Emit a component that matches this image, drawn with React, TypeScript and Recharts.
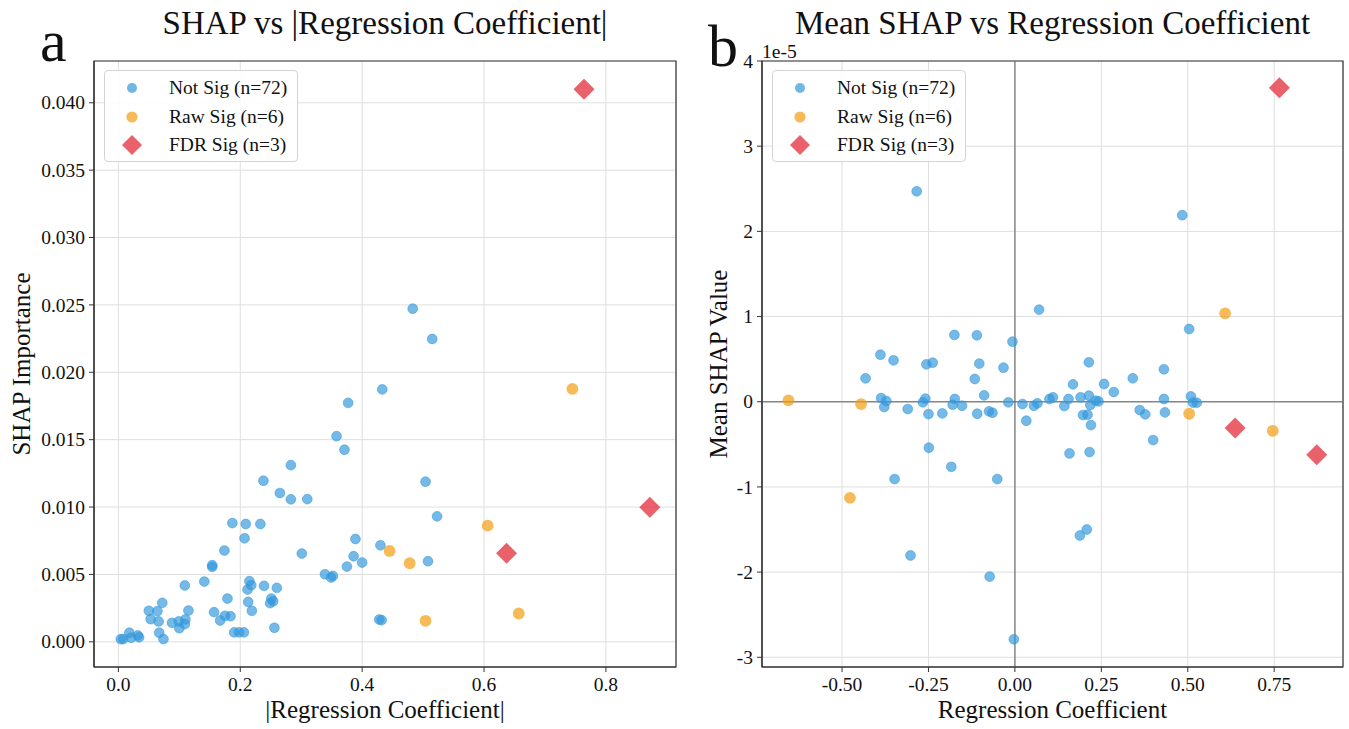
import {
  CartesianGrid,
  Legend,
  ReferenceArea,
  ReferenceLine,
  Scatter,
  ScatterChart,
  XAxis,
  YAxis,
} from 'recharts'

const SERIF = '"Liberation Serif", "Times New Roman", Times, serif'
const INK = '#111'
const BLUE = '#3498db'
const ORANGE = '#f39c12'
const RED = '#e63946'

// panel a: |regression coefficient| vs SHAP importance
const notSigAbsCoef = [
  0.433, 0.377, 0.358, 0.371, 0.283, 0.238, 0.265, 0.283, 0.31, 0.187,
  0.209, 0.233, 0.207, 0.174, 0.154, 0.154, 0.301, 0.389, 0.43, 0.386,
  0.4, 0.375, 0.339, 0.349, 0.352, 0.141, 0.109, 0.215, 0.218, 0.212,
  0.239, 0.26, 0.179, 0.213, 0.251, 0.254, 0.249, 0.072, 0.05, 0.064,
  0.115, 0.157, 0.219, 0.053, 0.066, 0.167, 0.175, 0.184, 0.088, 0.099,
  0.11, 0.109, 0.1, 0.256, 0.432, 0.428, 0.19, 0.198, 0.206, 0.067,
  0.074, 0.018, 0.004, 0.021, 0.032, 0.034, 0.008, 0.483, 0.515, 0.504,
  0.523, 0.508,
]
const notSigShap = [
  0.01873, 0.01773, 0.01526, 0.01425, 0.01311, 0.01195, 0.01104, 0.01057, 0.01059, 0.00881,
  0.00874, 0.00874, 0.00768, 0.00677, 0.00568, 0.00556, 0.00655, 0.00763, 0.00716, 0.00635,
  0.00588, 0.00558, 0.00501, 0.00477, 0.00489, 0.00447, 0.00418, 0.0045, 0.0042, 0.00388,
  0.00415, 0.004, 0.00321, 0.00296, 0.00321, 0.00301, 0.00287, 0.00289, 0.0023, 0.00227,
  0.00232, 0.0022, 0.0023, 0.00168, 0.00151, 0.00158, 0.00193, 0.0019, 0.00141, 0.00151,
  0.00166, 0.00131, 0.00101, 0.00104, 0.00161, 0.00165, 0.0007, 0.0007, 0.0007, 0.00067,
  0.0002, 0.00067, 0.0002, 0.0003, 0.00047, 0.00033, 0.0002, 0.02472, 0.02247, 0.01188,
  0.00931, 0.00598,
]
const rawSigAbsCoef = [0.745, 0.606, 0.445, 0.478, 0.504, 0.657]
const rawSigShap = [0.01877, 0.00862, 0.00674, 0.00583, 0.00156, 0.0021]
const fdrSigAbsCoef = [0.764, 0.637, 0.872]
const fdrSigShap = [0.04101, 0.00657, 0.00998]

// panel b: signed coefficient vs mean SHAP (units of 1e-5)
const notSigCoef = [
  -0.389, -0.351, -0.432, -0.387, -0.372, -0.378, -0.31, -0.256, -0.238, -0.266,
  -0.259, -0.25, -0.21, -0.249, -0.175, -0.11, -0.103, -0.116, -0.174, -0.18,
  -0.153, -0.109, -0.089, -0.075, -0.065, -0.033, -0.007, -0.019, -0.184, -0.348,
  -0.051, -0.302, -0.073, -0.003, -0.284, 0.07, 0.022, 0.033, 0.055, 0.065,
  0.1, 0.11, 0.143, 0.155, 0.168, 0.158, 0.19, 0.214, 0.214, 0.218,
  0.197, 0.21, 0.22, 0.216, 0.234, 0.242, 0.258, 0.286, 0.341, 0.361,
  0.377, 0.4, 0.431, 0.431, 0.434, 0.504, 0.509, 0.526, 0.515, 0.188,
  0.208, 0.484,
]
const notSigMeanShap = [
  0.552, 0.486, 0.275, 0.043, 0.008, -0.062, -0.086, 0.439, 0.458, -0.007,
  0.035, -0.145, -0.137, -0.54, 0.784, 0.78, 0.447, 0.267, 0.032, -0.035,
  -0.047, -0.141, 0.075, -0.113, -0.129, 0.4, 0.705, -0.007, -0.764, -0.908,
  -0.908, -1.805, -2.052, -2.789, 2.47, 1.081, -0.027, -0.223, -0.047, -0.019,
  0.032, 0.052, -0.05, 0.032, 0.204, -0.607, 0.052, 0.463, 0.071, -0.039,
  -0.156, -0.152, -0.274, -0.591, 0.012, 0.004, 0.208, 0.114, 0.275, -0.098,
  -0.148, -0.45, 0.381, 0.032, -0.125, 0.854, 0.063, -0.011, -0.01, -1.57,
  -1.5, 2.19,
]
const rawSigCoef = [-0.655, -0.445, -0.477, 0.608, 0.504, 0.746]
const rawSigMeanShap = [0.016, -0.027, -1.128, 1.038, -0.141, -0.341]
const fdrSigCoef = [0.765, 0.637, 0.873]
const fdrSigMeanShap = [3.685, -0.309, -0.623]

const aXTicks = [0, 0.2, 0.4, 0.6, 0.8]
const aYTicks = [0, 0.005, 0.01, 0.015, 0.02, 0.025, 0.03, 0.035, 0.04]
const bXTicks = [-0.5, -0.25, 0, 0.25, 0.5, 0.75]
const bYTicks = [-3, -2, -1, 0, 1, 2, 3, 4]

const legendLabels = ['Not Sig (n=72)', 'Raw Sig (n=6)', 'FDR Sig (n=3)']

const zip = (xs: number[], ys: number[]) => xs.map((x, i) => ({ x, y: ys[i] }))

const blueDot = (p: any) => (
  <circle
    cx={p.cx}
    cy={p.cy}
    r={4.9}
    fill={BLUE}
    fillOpacity={0.68}
    stroke={BLUE}
    strokeOpacity={0.6}
    strokeWidth={0.9}
  />
)
const orangeDot = (p: any) => (
  <circle cx={p.cx} cy={p.cy} r={5.9} fill={ORANGE} fillOpacity={0.7} />
)
const diamond = (p: any) => {
  const r = 10.5
  return (
    <path
      d={`M${p.cx},${p.cy - r}L${p.cx + r},${p.cy}L${p.cx},${p.cy + r}L${p.cx - r},${p.cy}Z`}
      fill={RED}
      fillOpacity={0.8}
    />
  )
}

function LegendBox() {
  const markers = [
    <circle cx={28} cy={14} r={5} fill={BLUE} fillOpacity={0.7} />,
    <circle cx={28} cy={14} r={5.6} fill={ORANGE} fillOpacity={0.7} />,
    <path d="M28,4L38,14L28,24L18,14Z" fill={RED} fillOpacity={0.8} />,
  ]
  return (
    <div
      style={{
        position: 'relative',
        width: 194,
        height: 92,
        boxSizing: 'border-box',
        border: '1px solid #d4d4d4',
        borderRadius: 4,
        background: 'rgba(255,255,255,0.85)',
        fontFamily: SERIF,
        fontSize: 19.5,
        color: INK,
      }}
    >
      {legendLabels.map((label, i) => (
        <div
          key={label}
          style={{
            position: 'absolute',
            left: -1,
            top: 3 + i * 28.7,
            height: 28,
            display: 'flex',
            alignItems: 'center',
            whiteSpace: 'nowrap',
          }}
        >
          <svg width={56} height={28}>
            {markers[i]}
          </svg>
          <span style={{ marginLeft: 9 }}>{label}</span>
        </div>
      ))}
    </div>
  )
}

const makeTick = (side: 'x' | 'y', format: (v: number) => string) => (p: any) => (
  <text
    x={p.x}
    y={p.y}
    dy={side === 'x' ? '0.71em' : '0.34em'}
    textAnchor={side === 'x' ? 'middle' : 'end'}
    style={{ fontFamily: SERIF, fontSize: 19.5, fill: INK }}
  >
    {format(p.payload.value)}
  </text>
)

interface PanelProps {
  left: number
  width: number
  yAxisWidth: number
  rightMargin: number
  xDomain: [number, number]
  yDomain: [number, number]
  xTicks: number[]
  yTicks: number[]
  xFormat: (v: number) => string
  yFormat: (v: number) => string
  notSig: { x: number; y: number }[]
  rawSig: { x: number; y: number }[]
  fdrSig: { x: number; y: number }[]
  zeroLines?: boolean
}

function Panel(props: PanelProps) {
  return (
    <div style={{ position: 'absolute', left: props.left, top: 0, fontFamily: SERIF }}>
      <ScatterChart
        width={props.width}
        height={729}
        margin={{ top: 61, right: props.rightMargin, bottom: 0, left: 0 }}
      >
        <CartesianGrid stroke="#dedede" strokeWidth={1} />
        <XAxis
          type="number"
          dataKey="x"
          domain={props.xDomain}
          ticks={props.xTicks}
          allowDataOverflow
          height={62}
          tick={makeTick('x', props.xFormat)}
          tickSize={5}
          tickMargin={5}
          tickLine={{ stroke: '#333' }}
          axisLine={{ stroke: '#333', strokeWidth: 1.2 }}
        />
        <YAxis
          type="number"
          dataKey="y"
          domain={props.yDomain}
          ticks={props.yTicks}
          allowDataOverflow
          width={props.yAxisWidth}
          tick={makeTick('y', props.yFormat)}
          tickSize={5}
          tickMargin={4}
          tickLine={{ stroke: '#333' }}
          axisLine={{ stroke: '#333', strokeWidth: 1.2 }}
        />
        <Scatter data={props.notSig} shape={blueDot} isAnimationActive={false} />
        <Scatter data={props.rawSig} shape={orangeDot} isAnimationActive={false} />
        <Scatter data={props.fdrSig} shape={diamond} isAnimationActive={false} />
        {props.zeroLines && (
          <ReferenceLine x={0} stroke="#6f6f6f" strokeOpacity={0.8} strokeWidth={1.5} />
        )}
        {props.zeroLines && (
          <ReferenceLine y={0} stroke="#6f6f6f" strokeOpacity={0.8} strokeWidth={1.5} />
        )}
        <ReferenceArea
          x1={props.xDomain[0]}
          x2={props.xDomain[1]}
          y1={props.yDomain[0]}
          y2={props.yDomain[1]}
          fill="none"
          stroke="#333"
          strokeWidth={1.2}
          ifOverflow="visible"
        />
        <Legend
          layout="vertical"
          align="center"
          verticalAlign="middle"
          content={() => <LegendBox />}
          wrapperStyle={{ left: props.yAxisWidth + 10, top: 70, width: 194, height: 92 }}
        />
      </ScatterChart>
    </div>
  )
}

export default function App() {
  return (
    <div
      style={{
        position: 'absolute',
        left: 0,
        top: 0,
        width: 1349,
        height: 729,
        background: '#fff',
        overflow: 'hidden',
      }}
    >
      <Panel
        left={0}
        width={690}
        yAxisWidth={94}
        rightMargin={14}
        xDomain={[-0.04, 0.915]}
        yDomain={[-0.00187, 0.0431]}
        xTicks={aXTicks}
        yTicks={aYTicks}
        xFormat={(v) => v.toFixed(1)}
        yFormat={(v) => v.toFixed(3)}
        notSig={zip(notSigAbsCoef, notSigShap)}
        rawSig={zip(rawSigAbsCoef, rawSigShap)}
        fdrSig={zip(fdrSigAbsCoef, fdrSigShap)}
      />
      <Panel
        left={690}
        width={659}
        yAxisWidth={72}
        rightMargin={6}
        xDomain={[-0.7315, 0.949]}
        yDomain={[-3.114, 4.0]}
        xTicks={bXTicks}
        yTicks={bYTicks}
        xFormat={(v) => v.toFixed(2)}
        yFormat={(v) => String(v)}
        notSig={zip(notSigCoef, notSigMeanShap)}
        rawSig={zip(rawSigCoef, rawSigMeanShap)}
        fdrSig={zip(fdrSigCoef, fdrSigMeanShap)}
        zeroLines
      />
      <svg
        width={1349}
        height={729}
        style={{ position: 'absolute', left: 0, top: 0, pointerEvents: 'none' }}
        fontFamily={SERIF}
        fill={INK}
      >
        <text x={385} y={34} fontSize={33} textAnchor="middle">
          SHAP vs |Regression Coefficient|
        </text>
        <text x={1052.5} y={34} fontSize={33} textAnchor="middle">
          Mean SHAP vs Regression Coefficient
        </text>
        <text x={40} y={61} fontSize={60}>
          a
        </text>
        <text x={708} y={66} fontSize={60}>
          b
        </text>
        <text x={762} y={58} fontSize={19.5}>
          1e-5
        </text>
        <text x={385} y={718} fontSize={25} textAnchor="middle">
          |Regression Coefficient|
        </text>
        <text x={1052.5} y={718} fontSize={25} textAnchor="middle">
          Regression Coefficient
        </text>
        <text x={30} y={364} fontSize={25} textAnchor="middle" transform="rotate(-90 30 364)">
          SHAP Importance
        </text>
        <text x={727} y={364} fontSize={25} textAnchor="middle" transform="rotate(-90 727 364)">
          Mean SHAP Value
        </text>
      </svg>
    </div>
  )
}
